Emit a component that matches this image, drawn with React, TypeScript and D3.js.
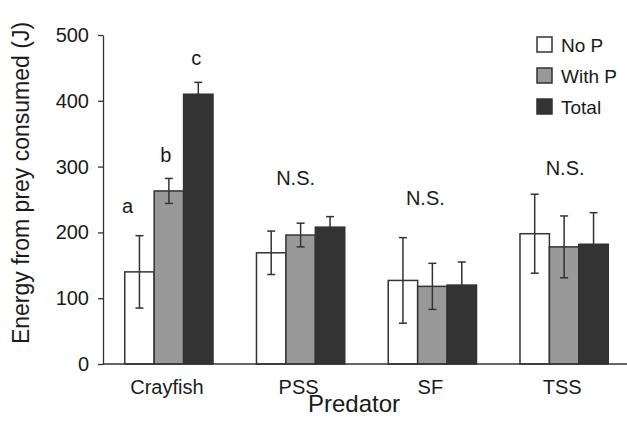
import React, { Component } from 'react';
import * as d3 from 'd3';

// predators on the x axis
const categories = ['Crayfish', 'PSS', 'SF', 'TSS'];
const seriesNames = ['No P', 'With P', 'Total'];
const seriesColors = ['#ffffff', '#999999', '#333333'];

// energy (J) and error bars per series
const noP = [140, 169, 127, 198];
const noPErr = [55, 33, 65, 60];
const withP = [263, 196, 118, 178];
const withPErr = [19, 18, 35, 47];
const total = [410, 208, 120, 182];
const totalErr = [18, 16, 35, 48];

const yTicks = [0, 100, 200, 300, 400, 500];

// significance letters: category, series it sits over, value of baseline
const annotations = [
  { cat: 'Crayfish', series: 'No P', text: 'a', value: 229, dx: -12 },
  { cat: 'Crayfish', series: 'With P', text: 'b', value: 307, dx: -3 },
  { cat: 'Crayfish', series: 'Total', text: 'c', value: 455, dx: -2 },
  { cat: 'PSS', series: 'With P', text: 'N.S.', value: 272, dx: -5 },
  { cat: 'SF', series: 'With P', text: 'N.S.', value: 242, dx: -7 },
  { cat: 'TSS', series: 'With P', text: 'N.S.', value: 287, dx: 1 },
];

const FONT = 'Arial, "Liberation Sans", Helvetica, sans-serif';
const INK = '#1a1a1a';

class App extends Component {
  node: SVGSVGElement | null = null;

  componentDidMount() {
    this.createChart();
  }

  createChart() {
    const svg = d3.select(this.node);
    svg.selectAll('*').remove();

    const width = 627, height = 427;
    const left = 103, right = 630, top = 35, bottom = 364;

    const values = [noP, withP, total];
    const errors = [noPErr, withPErr, totalErr];

    const x = d3.scaleBand()
      .domain(categories)
      .range([left, right])
      .paddingInner(0.33)
      .paddingOuter(0.165);
    const xs = d3.scaleBand()
      .domain(seriesNames)
      .range([0, x.bandwidth()]);
    const y = d3.scaleLinear().domain([0, 500]).range([bottom, top]);

    svg.append('rect').attr('width', width).attr('height', height).attr('fill', '#fff');

    const rows = categories.flatMap((c, i) =>
      seriesNames.map((s, j) => ({ c, s, j, v: values[j][i], e: errors[j][i] })));

    // bars
    svg.append('g').selectAll('rect')
      .data(rows)
      .enter().append('rect')
      .attr('x', d => x(d.c)! + xs(d.s)!)
      .attr('y', d => y(d.v))
      .attr('width', xs.bandwidth())
      .attr('height', d => bottom - y(d.v))
      .attr('fill', d => seriesColors[d.j])
      .attr('stroke', '#333')
      .attr('stroke-width', 1.5);

    // error bars
    const eg = svg.append('g').attr('stroke', '#333').attr('stroke-width', 1.5);
    rows.forEach(d => {
      const cx = x(d.c)! + xs(d.s)! + xs.bandwidth() / 2;
      eg.append('line').attr('x1', cx).attr('x2', cx).attr('y1', y(d.v + d.e)).attr('y2', y(d.v - d.e));
      eg.append('line').attr('x1', cx - 4).attr('x2', cx + 4).attr('y1', y(d.v + d.e)).attr('y2', y(d.v + d.e));
      eg.append('line').attr('x1', cx - 4).attr('x2', cx + 4).attr('y1', y(d.v - d.e)).attr('y2', y(d.v - d.e));
    });

    // y axis
    const ya = svg.append('g')
      .attr('transform', 'translate(' + left + ',0)')
      .call(d3.axisLeft(y).tickValues(yTicks).tickSize(5).tickSizeOuter(0).tickPadding(9));
    ya.select('.domain').attr('stroke', '#333').attr('stroke-width', 1.3);
    ya.selectAll('.tick line').attr('stroke', '#333').attr('stroke-width', 1.3);
    ya.selectAll('.tick text').attr('font-family', FONT).attr('font-size', 20).attr('fill', INK);

    // x axis line
    svg.append('line')
      .attr('x1', left).attr('x2', width)
      .attr('y1', bottom).attr('y2', bottom)
      .attr('stroke', '#333').attr('stroke-width', 1.3);

    // x labels
    svg.append('g').selectAll('text')
      .data(categories)
      .enter().append('text')
      .attr('x', d => x(d)! + x.bandwidth() / 2 - 2)
      .attr('y', bottom + 30)
      .attr('text-anchor', 'middle')
      .attr('font-family', FONT).attr('font-size', 20).attr('fill', INK)
      .text(d => d);

    // annotations
    svg.append('g').selectAll('text')
      .data(annotations)
      .enter().append('text')
      .attr('x', d => x(d.cat)! + xs(d.series)! + xs.bandwidth() / 2 + d.dx)
      .attr('y', d => y(d.value))
      .attr('text-anchor', 'middle')
      .attr('font-family', FONT).attr('font-size', 20).attr('fill', INK)
      .text(d => d.text);

    // axis titles
    svg.append('text')
      .attr('x', 354).attr('y', 412)
      .attr('text-anchor', 'middle')
      .attr('font-family', FONT).attr('font-size', 24).attr('fill', INK)
      .text('Predator');
    svg.append('text')
      .attr('transform', 'translate(29,183) rotate(-90)')
      .attr('text-anchor', 'middle')
      .attr('font-family', FONT).attr('font-size', 23).attr('fill', INK)
      .text('Energy from prey consumed (J)');

    // legend
    const lg = svg.append('g').attr('transform', 'translate(537,37)');
    seriesNames.forEach((s, i) => {
      lg.append('rect')
        .attr('x', 0).attr('y', i * 31)
        .attr('width', 15).attr('height', 15)
        .attr('fill', seriesColors[i])
        .attr('stroke', '#333').attr('stroke-width', 1.5);
      lg.append('text')
        .attr('x', 24).attr('y', i * 31 + 15)
        .attr('font-family', FONT).attr('font-size', 19).attr('fill', INK)
        .text(s);
    });
  }

  render() {
    return <svg ref={node => { this.node = node; }}
                width={627} height={427}
                style={{ position: 'absolute', left: 0, top: 0 }}>
    </svg>;
  }
}

export default App;
